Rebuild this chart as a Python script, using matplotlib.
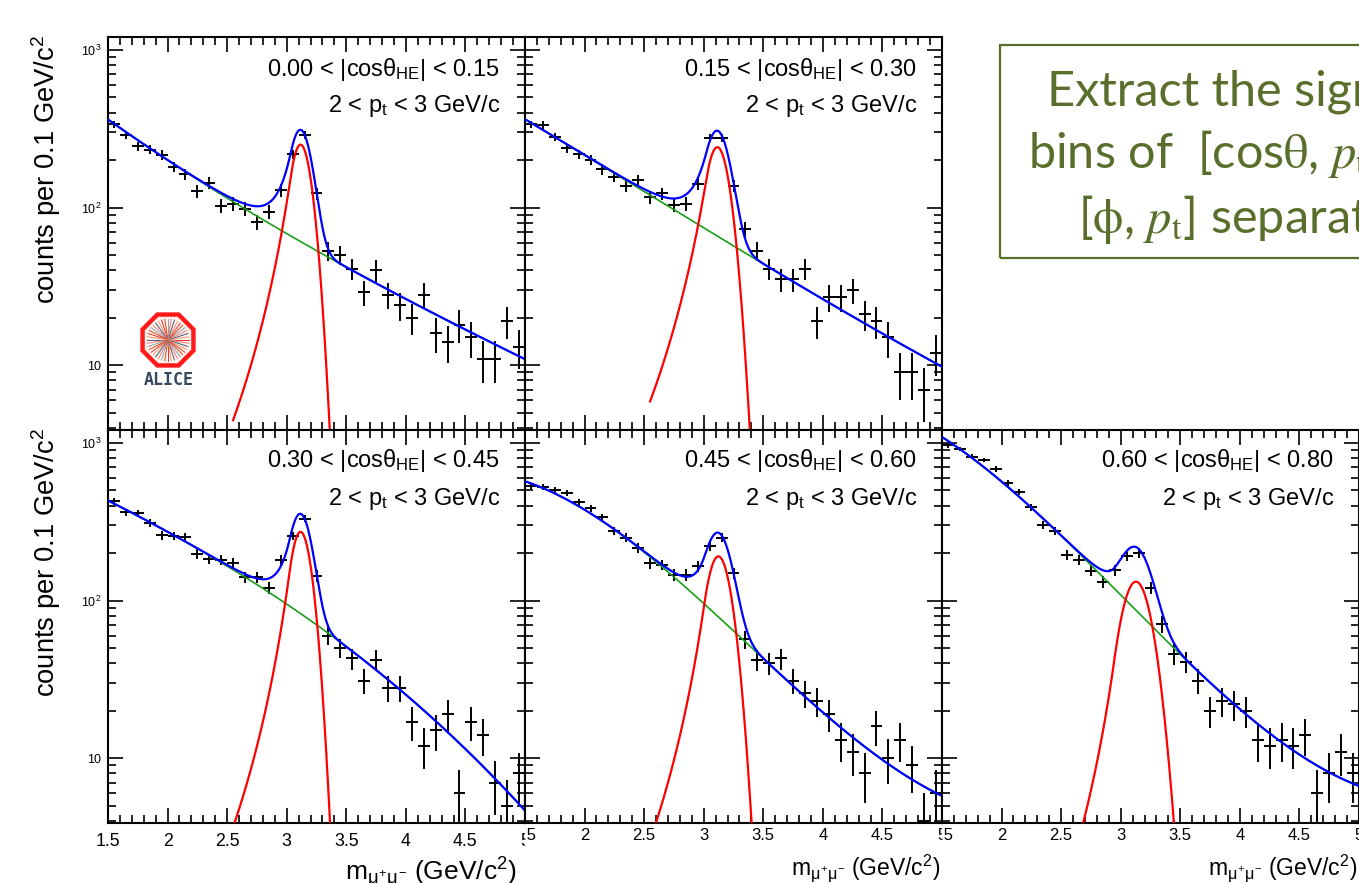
import numpy as np
import matplotlib
matplotlib.use("Agg")
import matplotlib.pyplot as plt
from matplotlib.patches import Rectangle, RegularPolygon
from matplotlib.ticker import FixedLocator, FixedFormatter, MultipleLocator, LogLocator, NullFormatter
from matplotlib.transforms import Bbox, TransformedBbox

plt.rcParams["font.family"] = ["Liberation Sans", "DejaVu Sans"]
plt.rcParams["mathtext.fontset"] = "custom"
plt.rcParams["mathtext.rm"] = "Liberation Sans"
plt.rcParams["mathtext.it"] = "Liberation Sans"
plt.rcParams["mathtext.sf"] = "Liberation Sans"
plt.rcParams["mathtext.bf"] = "Liberation Sans:bold"

# ---- data: dimuon invariant mass, counts per 0.1 GeV/c^2 bin ----
bin_centers = [1.55, 1.65, 1.75, 1.85, 1.95, 2.05, 2.15, 2.25, 2.35, 2.45,
               2.55, 2.65, 2.75, 2.85, 2.95, 3.05, 3.15, 3.25, 3.35, 3.45,
               3.55, 3.65, 3.75, 3.85, 3.95, 4.05, 4.15, 4.25, 4.35, 4.45,
               4.55, 4.65, 4.75, 4.85, 4.95]
bin_half_width = 0.05

counts_p1 = [338, 291, 245, 233, 216, 182, 163, 127, 144, 103,
             106, 98, 81, 94, 129, 219, 291, 123, 53, 50,
             41, 29, 40, 28, 24, 20, 28, 16, 14, 18,
             15, 11, 11, 19, 13]
counts_p2 = [337, 334, 280, 239, 219, 201, 175, 157, 137, 150,
             117, 123, 104, 106, 142, 277, 277, 137, 73, 53,
             41, 35, 35, 41, 19, 27, 27, 30, 21, 19,
             15, 9, 9, 7, 12]
counts_p3 = [428, 363, 359, 310, 259, 257, 254, 199, 184, 182,
             173, 141, 141, 121, 180, 257, 332, 144, 60, 50,
             43, 31, 42, 28, 28, 17, 12, 15, 19, 6,
             17, 14, 7, 5, 8]
counts_p4 = [534, 526, 501, 484, 421, 385, 337, 277, 251, 216,
             173, 169, 146, 146, 165, 221, 251, 149, 57, 42,
             40, 43, 31, 26, 23, 19, 13, 11, 8, 16,
             10, 13, 9, 4, 6]
counts_p5 = [966, 920, 821, 781, 684, 561, 489, 391, 301, 277,
             196, 182, 155, 132, 156, 191, 201, 121, 71, 46,
             41, 31, 20, 23, 22, 20, 13, 12, 13, 12,
             14, 6, 8, 11, 8]
counts = [counts_p1, counts_p2, counts_p3, counts_p4, counts_p5]

cos_low = ["0.00", "0.15", "0.30", "0.45", "0.60"]
cos_high = ["0.15", "0.30", "0.45", "0.60", "0.80"]

# J/psi signal (Crystal Ball)
sig_amp = [251, 242, 273, 191, 132]
sig_mean = [3.116, 3.114, 3.116, 3.123, 3.128]
sig_width = [0.085, 0.095, 0.085, 0.100, 0.120]
sig_alpha = [1.0, 1.0, 1.1, 1.2, 1.5]
sig_n = 4.0

# background curve
bkg_knot_mass = [1.5, 1.75, 2.0, 2.5, 3.0, 3.5, 4.0, 4.5, 5.0]
bkg_p1 = [355, 270, 206, 117, 64, 42.5, 27.2, 16.6, 10.9]
bkg_p2 = [364, 280, 211, 133, 71, 44.7, 25.9, 16.2, 9.7]
bkg_p3 = [431, 346, 270, 173, 89.5, 51.5, 26.5, 11.0, 4.7]
bkg_p4 = [540, 505, 401, 191, 94, 43.4, 19.7, 9.9, 5.7]
bkg_p5 = [986, 863, 625, 270, 96, 42.4, 21.2, 12.0, 6.2]
bkgs = [bkg_p1, bkg_p2, bkg_p3, bkg_p4, bkg_p5]

x_tick_values = [1.5, 2.0, 2.5, 3.0, 3.5, 4.0, 4.5, 5.0]
x_tick_labels = ["1.5", "2", "2.5", "3", "3.5", "4", "4.5", "5"]
y_tick_values = [10, 100, 1000]
y_tick_labels = ["10", "$10^{2}$", "$10^{3}$"]


def crystal_ball(m, amp, mu, sig, alpha, n):
    t = (m - mu) / sig
    a = (n / alpha) ** n * np.exp(-alpha ** 2 / 2)
    b = n / alpha - alpha
    core = np.exp(-t ** 2 / 2)
    tail = a * np.abs(b - t) ** (-n)
    return amp * np.where(t > -alpha, core, tail)


W, H = 1359, 883
fig = plt.figure(figsize=(W / 100, H / 100), dpi=100)

col_x = [108, 525, 942]
pw, ph = 417, 393
positions = [(0, 37), (1, 37), (0, 430), (1, 430), (2, 430)]

m_full = np.linspace(1.5, 5.0, 700)
m_sig = np.linspace(2.55, 3.6, 400)

axes = []
for i, (col, top) in enumerate(positions):
    ax = fig.add_axes([col_x[col] / W, 1 - (top + ph) / H, pw / W, ph / H])
    axes.append(ax)
    ax.set_yscale("log")

    ax.errorbar(bin_centers, counts[i], xerr=bin_half_width, yerr=np.sqrt(counts[i]),
                fmt="none", ecolor="black", elinewidth=1.4, capsize=0, zorder=3)

    coef = np.polyfit(bkg_knot_mass, np.log10(bkgs[i]), 3)
    bkg = 10 ** np.polyval(coef, m_full)
    sig_full = crystal_ball(m_full, sig_amp[i], sig_mean[i], sig_width[i], sig_alpha[i], sig_n)
    sig_only = crystal_ball(m_sig, sig_amp[i], sig_mean[i], sig_width[i], sig_alpha[i], sig_n)

    ax.plot(m_full, bkg, color="#1a9e1a", lw=1.2, zorder=4)
    ax.plot(m_sig, sig_only, color="#ff0000", lw=1.6, zorder=5)
    ax.plot(m_full, bkg + sig_full, color="#0000ff", lw=1.6, zorder=6)

    ax.set_xlim(1.5, 5.0)
    ax.set_ylim(3.88, 1210)

    ax.xaxis.set_major_locator(FixedLocator(x_tick_values))
    ax.xaxis.set_minor_locator(MultipleLocator(0.1))
    ax.yaxis.set_major_locator(FixedLocator(y_tick_values))
    ax.yaxis.set_minor_locator(LogLocator(base=10, subs=range(2, 10)))
    ax.yaxis.set_minor_formatter(NullFormatter())
    ax.tick_params(which="both", direction="in", top=True, right=True, width=1.2)
    ax.tick_params(which="major", length=11)
    ax.tick_params(which="minor", length=5.5)
    for s in ax.spines.values():
        s.set_linewidth(1.5)

    if top == 430:
        ax.xaxis.set_major_formatter(FixedFormatter(x_tick_labels))
        if col == 0:
            ax.tick_params(axis="x", which="major", labelsize=12.8, pad=7)
        else:
            ax.tick_params(axis="x", which="major", labelsize=12, pad=3.5)
    else:
        ax.set_xticklabels([])
    if col == 0:
        ax.yaxis.set_major_formatter(FixedFormatter(y_tick_labels))
        ax.tick_params(axis="y", which="major", labelsize=9, pad=5)
    else:
        ax.set_yticklabels([])

    ax.text(0.94, 0.905 if top == 430 else 0.902,
            cos_low[i] + r" < $|\mathrm{cos}\theta_{\mathrm{HE}}|$ < " + cos_high[i],
            transform=ax.transAxes, ha="right", va="baseline", fontsize=17)
    ax.text(0.94, 0.81, r"2 < $\mathrm{p_{t}}$ < 3 GeV/c",
            transform=ax.transAxes, ha="right", va="baseline", fontsize=17)

# y titles
for top in [35, 428]:
    fig.text(46 / W, 1 - top / H, r"counts per 0.1 GeV/c$^{2}$", rotation=90,
             ha="center", va="top", fontsize=19.7)

# x titles
xlab = r"$\mathrm{m}_{\mu^{+}\mu^{-}}$ (GeV/c$^{2}$)"
fig.text(517 / W, 1 - 880 / H, xlab, ha="right", va="baseline", fontsize=19)
fig.text(940 / W, 1 - 875 / H, xlab, ha="right", va="baseline", fontsize=16.5)
fig.text(1357 / W, 1 - 875 / H, xlab, ha="right", va="baseline", fontsize=16.5)

# ALICE logo
logo = fig.add_axes([139 / W, 1 - 369 / H, 58 / W, 58 / H])
logo.set_xlim(-1, 1)
logo.set_ylim(-1, 1)
logo.set_aspect("equal")
logo.axis("off")
logo.add_patch(RegularPolygon((0, 0), numVertices=8, radius=0.95, orientation=np.pi / 8,
                              facecolor="#fff3ef", edgecolor="#ff1a1a", lw=3.2))
ray_colors = ["#e8312a", "#f59a6b", "#3f5a78", "#f27c7c", "#8a9bb0", "#d9480f"]
for k, ang in enumerate(np.linspace(0, 2 * np.pi, 40, endpoint=False)):
    logo.plot([0, 0.72 * np.cos(ang)], [0, 0.72 * np.sin(ang)],
              color=ray_colors[k % len(ray_colors)], lw=0.7)
fig.text(169 / W, 1 - 380 / H, "ALICE", ha="center", va="center",
         family="DejaVu Sans Mono", weight="bold", fontsize=12, color="#34495e")

# text box on the right
olive = "#5a6e2c"
fig.add_artist(Rectangle((1000 / W, 1 - 258 / H), 0.3, 213 / H, transform=fig.transFigure,
                         fill=False, edgecolor=olive, lw=1.6))
box_lines = ["Extract the signal in",
             r"bins of  [cos$\mathrm{\theta}$, $p_{\mathrm{t}}$] and",
             r"[$\mathrm{\phi}$, $p_{\mathrm{t}}$] separately"]
box_x = [1047, 1028, 1078]
box_y = [105, 168, 233]
for txt, bx, by in zip(box_lines, box_x, box_y):
    fig.text(bx / W, 1 - by / H, txt, ha="left", va="baseline", family="Lato",
             fontsize=35, color=olive, math_fontfamily="stix")

# clip the bottom tick labels at the pad edges like ROOT does
fig.canvas.draw()
for j, ax in enumerate(axes[2:]):
    left = -0.5 if j == 0 else 0.0
    clip = TransformedBbox(Bbox([[left, -1], [1, 1]]), ax.transAxes)
    for lab in ax.get_xticklabels():
        lab.set_clip_box(clip)
        lab.set_clip_on(True)

fig.savefig("out.png", dpi=100)
